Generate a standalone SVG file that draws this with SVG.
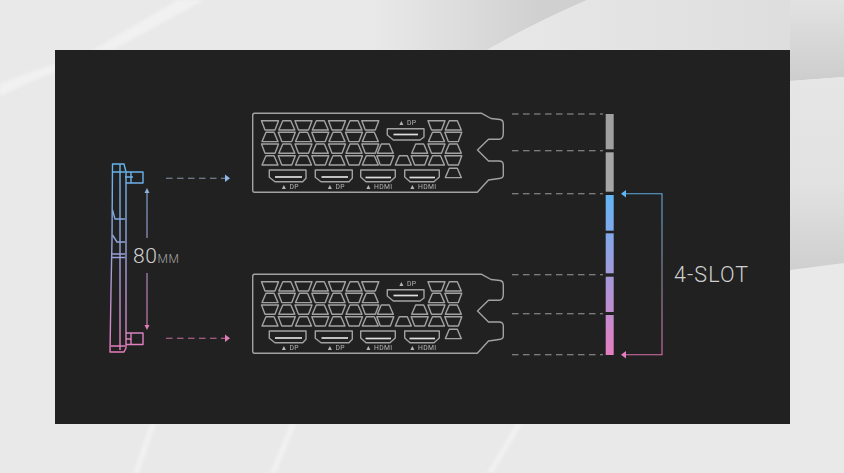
<svg xmlns="http://www.w3.org/2000/svg" width="844" height="473" viewBox="0 0 844 473">
<style>
.o{fill:none;stroke:#a2a2a2;stroke-width:1.4;stroke-linejoin:round}
.bar{fill:none;stroke:#dedede;stroke-width:1.700}
.lbl{font-family:"Roboto","Liberation Sans",sans-serif;font-size:6.800px;fill:#b4b4b4;letter-spacing:.3px}
.dash{fill:none;stroke:#9a9a9a;stroke-width:1.100;stroke-dasharray:6.500 4.500}
.side{fill:none;stroke:url(#gs);stroke-width:1.400;stroke-linejoin:round}
.big{font-family:"Roboto","Liberation Sans",sans-serif;font-weight:300;fill:#d0d0d0}
</style>
<defs>
<filter id="soft" x="-5%" y="-5%" width="110%" height="110%"><feGaussianBlur stdDeviation=".3"/></filter>
<filter id="sw" x="-20%" y="-20%" width="140%" height="140%"><feGaussianBlur stdDeviation="1.500"/></filter>
<linearGradient id="bgS1" gradientUnits="userSpaceOnUse" x1="370" y1="0" x2="540" y2="0"><stop offset="0" stop-color="#d2d2d2" stop-opacity="0"/><stop offset="1" stop-color="#d0d0d0"/></linearGradient>
<linearGradient id="bgS3" gradientUnits="userSpaceOnUse" x1="520" y1="0" x2="844" y2="0"><stop offset="0" stop-color="#e7e7e7"/><stop offset="1" stop-color="#dcdcdc"/></linearGradient>
<linearGradient id="bgS2" x1="0" y1="0" x2="0" y2="1"><stop offset="0" stop-color="#e2e2e2"/><stop offset="1" stop-color="#cdcdcd"/></linearGradient>
<linearGradient id="bgS4" x1="0" y1="0" x2="0" y2="1"><stop offset="0" stop-color="#e6e6e6"/><stop offset=".55" stop-color="#e2e2e2"/><stop offset="1" stop-color="#cfcfcf"/></linearGradient>
<linearGradient id="gs" gradientUnits="userSpaceOnUse" x1="0" y1="163" x2="0" y2="352"><stop offset="0" stop-color="#62b4ee"/><stop offset=".5" stop-color="#9aa0d8"/><stop offset="1" stop-color="#e67cbc"/></linearGradient>
<linearGradient id="ga" gradientUnits="userSpaceOnUse" x1="0" y1="188" x2="0" y2="335"><stop offset="0" stop-color="#7fb0e0"/><stop offset="1" stop-color="#e07cb8"/></linearGradient>
<linearGradient id="gb" gradientUnits="userSpaceOnUse" x1="0" y1="194" x2="0" y2="355"><stop offset="0" stop-color="#62b6f6"/><stop offset="1" stop-color="#e57ec0"/></linearGradient>
<linearGradient id="gc" gradientUnits="userSpaceOnUse" x1="0" y1="194" x2="0" y2="355"><stop offset="0" stop-color="#5fa8e0"/><stop offset=".5" stop-color="#8d8d9e"/><stop offset="1" stop-color="#d86fa8"/></linearGradient>
<path id="td" d="M0 0H17L13.500 9.300H3.500Z"/>
<path id="tu" d="M4.500 0H12.500L16.500 9.300H.5Z"/>
<g id="bracket" class="o">
<path d="M254.500 113.300H481.700L491 118.500L500 119.500Q503.300 120 503.300 124V133Q503.300 139.300 499 139.300H488.500L477.500 150L488.500 161H499Q503.300 161 503.300 165V175Q503.300 178.300 499 178.500L488.500 180L477.300 192.300H254.500Q252.700 192.300 252.700 190V115.500Q252.700 113.300 254.500 113.300Z"/>
<use href="#td" x="261.500" y="120.700"/><use href="#tu" x="278.300" y="120.700"/><use href="#td" x="295" y="120.700"/><use href="#tu" x="311.800" y="120.700"/><use href="#td" x="328.500" y="120.700"/><use href="#tu" x="345.500" y="120.700"/><use href="#td" x="361.800" y="120.700"/><use href="#td" x="428" y="120.700"/><use href="#tu" x="444.800" y="120.700"/>
<use href="#tu" x="261.500" y="132.300"/><use href="#td" x="278.300" y="132.300"/><use href="#tu" x="295" y="132.300"/><use href="#td" x="311.800" y="132.300"/><use href="#tu" x="328.500" y="132.300"/><use href="#td" x="345.500" y="132.300"/><use href="#tu" x="361.800" y="132.300"/><use href="#tu" x="428" y="132.300"/><use href="#td" x="444.800" y="132.300"/>
<use href="#td" x="261.500" y="144"/><use href="#tu" x="278.300" y="144"/><use href="#td" x="295" y="144"/><use href="#tu" x="311.800" y="144"/><use href="#td" x="328.500" y="144"/><use href="#tu" x="345.500" y="144"/><use href="#td" x="361.800" y="144"/><use href="#tu" x="376.800" y="144"/><use href="#tu" x="411.200" y="144"/><use href="#td" x="428" y="144"/><use href="#tu" x="444.800" y="144"/>
<use href="#tu" x="261.500" y="155.700"/><use href="#td" x="278.300" y="155.700"/><use href="#tu" x="295" y="155.700"/><use href="#td" x="311.800" y="155.700"/><use href="#tu" x="328.500" y="155.700"/><use href="#td" x="345.500" y="155.700"/><use href="#tu" x="361.800" y="155.700"/><use href="#td" x="376.800" y="155.700"/><use href="#tu" x="394.800" y="155.700"/><use href="#td" x="411.200" y="155.700"/><use href="#tu" x="428" y="155.700"/><use href="#td" x="444.800" y="155.700"/>
<use href="#tu" x="444.800" y="168.300"/>
<path d="M387.300 128.700H424V137L420 140H393.300L387.300 135Z"/>
<path d="M269.300 170H306V178.300L302.700 181.700H275L269.300 177.300Z"/>
<path d="M315.300 170H352.300V178.300L349 181.700H321L315.300 177.300Z"/>
<path d="M360.700 170H395.300V177L390 181.700H366L360.700 177Z"/>
<path d="M404.700 170H439.300V177L434 181.700H410L404.700 177Z"/>
</g>
<g id="bars" class="bar">
<path d="M393.500 134.500H418"/><path d="M275 177H302"/><path d="M321.500 177H348"/><path d="M365.500 177.500H391"/><path d="M409.500 177.500H435"/>
</g>
<g id="labels" class="lbl">
<text x="398" y="124.500">▲ DP</text>
<text x="280.500" y="189">▲ DP</text>
<text x="326.500" y="189">▲ DP</text>
<text x="365" y="189">▲ HDMI</text>
<text x="409" y="189">▲ HDMI</text>
</g>
</defs>

<g id="background">
<rect width="844" height="473" fill="#e9e9e9"/>
<path d="M370 0H587Q530 25 487 50H370Z" fill="url(#bgS1)"/>
<path d="M587 0Q530 25 487 50H790V0Z" fill="url(#bgS3)"/>
<path d="M790 0H844V77L790 81Z" fill="url(#bgS2)"/>
<path d="M790 81L844 77V263L790 270Z" fill="url(#bgS4)"/>
<g filter="url(#sw)" fill="#f1f1f1">
<path d="M178 0H204L140 35L112 50H93Z"/>
<path d="M0 84Q30 72 55 64V72Q25 84 0 96Z"/>
<path d="M150 424H156L139 473H133Z"/>
<path d="M290 424H296L276 473H270Z"/>
<path d="M516 424H522L493 473H487Z"/>
</g>
<rect x="55" y="50" width="735" height="374" fill="#212121"/>
</g>

<g id="card-side" filter="url(#soft)">
<path class="side" d="M113 164H124L126 172V348L124 352H110L111 290L112 240L112.500 164Z"/>
<path class="side" d="M113 172H125M120 164V350M111 346H125M112.500 210L115 219H125M112.500 235L117 242H125M111 254H125M111 257.500H125"/>
<path class="side" d="M126 172H143V183H126M126 333H143V344.500H126M131 172V183M125 177H133M126 339H131M131 333V344.500"/>
</g>

<g id="connectors" filter="url(#soft)">
<path d="M166 178.300H225" fill="none" stroke="#8794a8" stroke-width="1.100" stroke-dasharray="6.500 4.500"/>
<path d="M225 174.500L230 178.300L225 182Z" fill="#8fb8ea"/>
<path d="M166 338.300H225" fill="none" stroke="#c56f9f" stroke-width="1.100" stroke-dasharray="6.500 4.500"/>
<path d="M225 334.500L230 338.300L225 342Z" fill="#e07cb8"/>
<path d="M147 191V238M147 273V326" fill="none" stroke="url(#ga)" stroke-width="1.100"/>
<path d="M147 188L144.500 193H149.500Z" fill="#8fb0dc"/>
<path d="M147 330L144.500 325H149.500Z" fill="#e07cb8"/>
<path class="dash" d="M512 114H603M512 150.700H603M512 193.700H603M512 274.700H603M512 313.700H603M512 354.700H603"/>
<path d="M625 193.700H662V354.700H625" fill="none" stroke="url(#gc)" stroke-width="1.100"/>
<path d="M621 193.700L626 190V197.400Z" fill="#62b6f6"/>
<path d="M621 354.700L626 351V358.400Z" fill="#e57ec0"/>
</g>

<g id="bracket-top" filter="url(#soft)"><use href="#bracket"/><use href="#bars"/><use href="#labels"/></g>
<g id="bracket-bottom" filter="url(#soft)" transform="translate(0 161)"><use href="#bracket"/><use href="#bars"/><use href="#labels"/></g>

<g id="slots">
<rect x="605.700" y="114" width="8" height="35.300" fill="#a0a0a0"/>
<rect x="605.700" y="152.300" width="8" height="39.400" fill="#a6a6a6"/>
<rect x="605.700" y="195" width="8" height="35.700" fill="url(#gb)"/>
<rect x="605.700" y="233.300" width="8" height="40" fill="url(#gb)"/>
<rect x="605.700" y="276.700" width="8" height="35.300" fill="url(#gb)"/>
<rect x="605.700" y="315" width="8" height="40" fill="url(#gb)"/>
</g>

<g id="text-80mm"><text class="big" x="133" y="262.500" font-size="21" letter-spacing=".6">80<tspan font-size="12" fill="#a8a8a8">MM</tspan></text></g>
<g id="text-4slot"><text class="big" x="674" y="282" font-size="21.500" letter-spacing="1.100">4-SLOT</text></g>
</svg>
